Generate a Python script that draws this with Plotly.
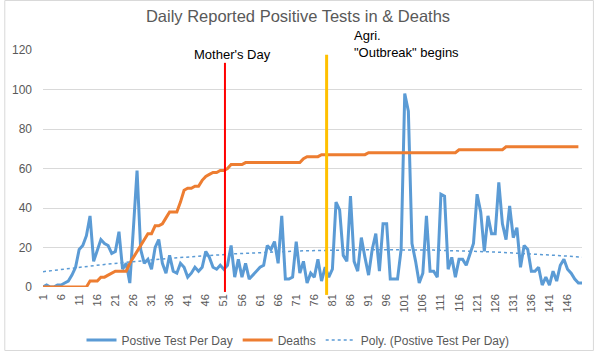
import numpy as np
import plotly.graph_objects as go

days = list(range(1, 151))

positive_tests = [
    0, 1, 0, 0, 1, 1, 2, 3, 6, 10,
    19, 21, 26, 36, 13, 18, 24, 22, 21, 17,
    18, 28, 9, 12, 2, 30, 59, 19, 12, 14,
    9, 20, 24, 12, 7, 16, 8, 7, 12, 10,
    5, 7, 10, 8, 10, 18, 15, 10, 9, 11,
    9, 11, 21, 5, 14, 5, 12, 4, 6, 8,
    10, 11, 21, 19, 23, 12, 36, 4, 4, 5,
    23, 7, 13, 2, 7, 5, 14, 3, 10, 5,
    9, 43, 39, 16, 13, 46, 13, 8, 25, 15,
    6, 19, 27, 8, 32, 32, 4, 4, 4, 19,
    98, 89, 22, 13, 2, 7, 36, 8, 8, 5,
    47, 46, 9, 15, 5, 14, 14, 11, 16, 22,
    47, 38, 18, 36, 27, 27, 53, 32, 24, 41,
    25, 30, 10, 21, 19, 8, 8, 10, 1, 5,
    1, 8, 3, 11, 14, 9, 7, 4, 2, 2,
]

deaths = (
    [0] * 13
    + [3, 3, 3, 5, 5, 6, 7, 8, 8, 8, 8, 12, 15, 18, 21, 24, 27, 27, 31, 31,
       32, 35, 38, 38, 38, 43, 49, 50, 50, 51, 51, 54, 56, 57, 58, 58, 59, 59,
       60, 62, 62, 62, 62]
    + [63] * 16
    + [65, 66, 66, 66, 66]
    + [67] * 13
    + [68] * 25
    + [69.5] * 13
    + [71] * 21
)

x_tick_labels = [str(d) for d in range(1, 151, 5)]
y_tick_values = [0, 20, 40, 60, 80, 100, 120]

mothers_day = 51.3
outbreak_day = 79.4
mothers_line_top = 113.5
outbreak_line_top = 117.6

# Excel-style polynomial (order 2) trendline fitted to the positive tests
coef = np.polyfit(days, positive_tests, 2)
trend = np.polyval(coef, days)

grey = "#595959"
font_family = "Liberation Sans, Arial, sans-serif"

fig = go.Figure()
fig.add_trace(go.Scatter(
    x=days, y=positive_tests, mode="lines", name="Postive Test Per Day",
    line=dict(color="#5B9BD5", width=3), hoverinfo="skip",
))
fig.add_trace(go.Scatter(
    x=days, y=deaths, mode="lines", name="Deaths",
    line=dict(color="#ED7D31", width=3), hoverinfo="skip",
))
fig.add_trace(go.Scatter(
    x=days, y=trend, mode="lines", name="Poly. (Postive Test Per Day)",
    line=dict(color="#5B9BD5", width=1.5, dash="dot"), hoverinfo="skip",
))

y_max = 120
fig.add_shape(type="line", xref="x", yref="paper",
              x0=mothers_day, x1=mothers_day, y0=-2.5 / y_max, y1=mothers_line_top / y_max,
              line=dict(color="#FF0000", width=2))
fig.add_shape(type="line", xref="x", yref="paper",
              x0=outbreak_day, x1=outbreak_day, y0=-4 / y_max, y1=outbreak_line_top / y_max,
              line=dict(color="#FFC000", width=3))

# chart border
fig.add_shape(type="rect", xref="paper", yref="paper",
              x0=-0.0709, x1=1.0212, y0=-0.2679, y1=1.2089,
              line=dict(color="#D9D9D9", width=1), fillcolor="rgba(0,0,0,0)", layer="below")

fig.add_annotation(x=42.3, y=117.5 / y_max, xref="x", yref="paper", text="Mother's Day",
                   showarrow=False, xanchor="left", yanchor="middle",
                   font=dict(family=font_family, size=13, color="#000000"))
fig.add_annotation(x=86.3, y=127.5 / y_max, xref="x", yref="paper", text="Agri.",
                   showarrow=False, xanchor="left", yanchor="middle",
                   font=dict(family=font_family, size=13, color="#000000"))
fig.add_annotation(x=86.3, y=118.7 / y_max, xref="x", yref="paper", text="\"Outbreak\" begins",
                   showarrow=False, xanchor="left", yanchor="middle",
                   font=dict(family=font_family, size=13, color="#000000"))

fig.update_layout(
    width=596, height=352,
    margin=dict(l=39, r=14, t=50, b=65),
    paper_bgcolor="white", plot_bgcolor="white",
    font=dict(family=font_family, color=grey),
    title=dict(text="Daily Reported Positive Tests in & Deaths",
               x=0.5, xref="container", xanchor="center",
               y=1 - 16 / 352, yref="container", yanchor="middle",
               font=dict(family=font_family, size=16.5, color=grey)),
    showlegend=True,
    legend=dict(orientation="h", xref="container", yref="container",
                x=0.5, xanchor="center", y=1 - 340 / 352, yanchor="middle",
                font=dict(family=font_family, size=12, color=grey),
                itemwidth=30, bgcolor="rgba(0,0,0,0)"),
)
fig.update_xaxes(
    range=[1, 150], tickmode="array",
    tickvals=list(range(1, 151, 5)), ticktext=x_tick_labels,
    tickangle=-90, tickfont=dict(size=11, color=grey),
    showgrid=False, zeroline=False, showline=False, ticks="",
    ticklabelstandoff=4,
)
fig.update_yaxes(
    range=[0, y_max], tickmode="array", tickvals=y_tick_values,
    tickfont=dict(size=12, color=grey),
    showgrid=True, gridcolor="#D9D9D9", gridwidth=1,
    zeroline=False, showline=False, ticks="", ticklabelstandoff=10,
)

fig.write_html("out.html")
